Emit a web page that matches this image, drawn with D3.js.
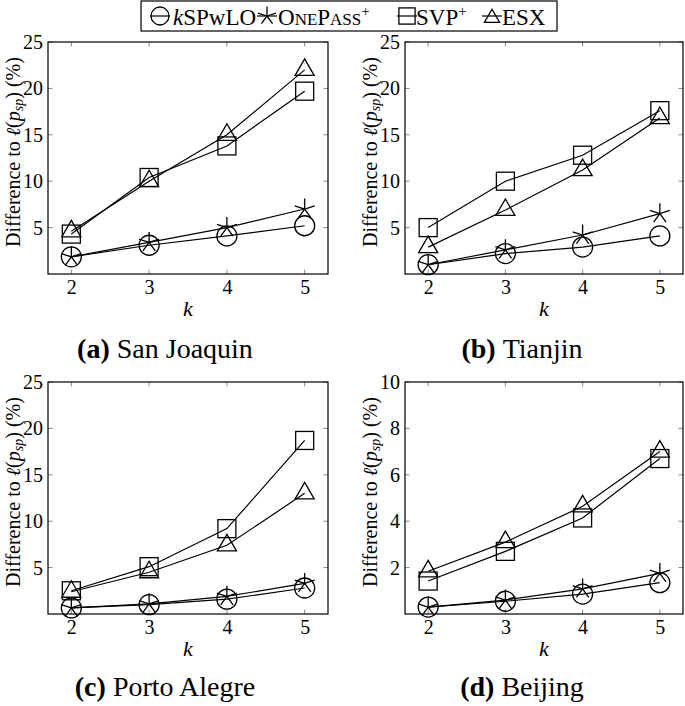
<!DOCTYPE html>
<html><head><meta charset="utf-8">
<script src="https://cdn.jsdelivr.net/npm/d3@7"></script>
<style>
html,body{margin:0;padding:0;background:#fff;}
svg{display:block;}
svg text{font-family:"Liberation Serif","DejaVu Serif","Tinos","Times New Roman","Noto Serif",serif;fill:#000;}
</style></head>
<body>
<svg id="chart" width="685" height="706"></svg>
<script>
// ---------- data ----------
const kValues = [2, 3, 4, 5];
const seriesNames = ["kSPwLO", "OnePass+", "SVP+", "ESX"];
const panelLetters = ["(a)", "(b)", "(c)", "(d)"];
const panelTitles = ["San Joaquin", "Tianjin", "Porto Alegre", "Beijing"];
const yMaxes = [25, 25, 25, 10];
const yTicksWide = [5, 10, 15, 20, 25];
const yTicksBeijing = [2, 4, 6, 8, 10];

const sanJoaquinKSPwLO = [1.85, 3.1, 4.1, 5.2];
const sanJoaquinOnePass = [1.85, 3.4, 5.0, 7.0];
const sanJoaquinSVP = [4.3, 10.4, 13.8, 19.7];
const sanJoaquinESX = [4.6, 10.0, 15.0, 22.0];

const tianjinKSPwLO = [1.0, 2.2, 2.9, 4.1];
const tianjinOnePass = [1.0, 2.6, 4.2, 6.5];
const tianjinSVP = [5.0, 10.0, 12.8, 17.6];
const tianjinESX = [2.9, 6.9, 11.2, 16.8];

const portoAlegreKSPwLO = [0.65, 1.0, 1.6, 2.8];
const portoAlegreOnePass = [0.65, 1.1, 1.9, 3.3];
const portoAlegreSVP = [2.5, 5.1, 9.2, 18.7];
const portoAlegreESX = [2.4, 4.5, 7.4, 13.0];

const beijingKSPwLO = [0.3, 0.55, 0.86, 1.35];
const beijingOnePass = [0.3, 0.6, 1.08, 1.75];
const beijingSVP = [1.42, 2.7, 4.14, 6.7];
const beijingESX = [1.84, 3.1, 4.64, 7.0];

const panelSeries = [
  [sanJoaquinKSPwLO, sanJoaquinOnePass, sanJoaquinSVP, sanJoaquinESX],
  [tianjinKSPwLO, tianjinOnePass, tianjinSVP, tianjinESX],
  [portoAlegreKSPwLO, portoAlegreOnePass, portoAlegreSVP, portoAlegreESX],
  [beijingKSPwLO, beijingOnePass, beijingSVP, beijingESX]
];
const panelYTicks = [yTicksWide, yTicksWide, yTicksWide, yTicksBeijing];

// ---------- layout ----------
const svg = d3.select("#chart");
const markerShapes = ["circle", "star", "square", "triangle"];
const panels = [
  {left: 48, right: 328, top: 42, bottom: 274, capX: 165, capY: 358},
  {left: 405, right: 683, top: 42, bottom: 274, capX: 522, capY: 358},
  {left: 48, right: 328, top: 382, bottom: 614, capX: 165, capY: 696},
  {left: 405, right: 683, top: 382, bottom: 614, capX: 522, capY: 696}
];

function drawMarker(g, shape, cx, cy, s) {
  let el;
  if (shape === "circle") {
    el = g.append("circle").attr("cx", cx).attr("cy", cy).attr("r", 10*s);
  } else if (shape === "square") {
    const h = 9*s;
    el = g.append("rect").attr("x", cx-h).attr("y", cy-h).attr("width", 2*h).attr("height", 2*h);
  } else if (shape === "triangle") {
    const r = 11*s;
    el = g.append("path").attr("d",
      `M${cx},${cy-r}L${cx-0.866*r},${cy+0.5*r}L${cx+0.866*r},${cy+0.5*r}Z`);
  } else {
    const r = 10.5*s;
    let d = "";
    for (let i = 0; i < 5; i++) {
      const a = -Math.PI/2 + i*2*Math.PI/5;
      d += `M${cx},${cy}L${cx+r*Math.cos(a)},${cy+r*Math.sin(a)}`;
    }
    el = g.append("path").attr("d", d);
  }
  el.attr("fill", "none").attr("stroke", "#000").attr("stroke-width", 1.3);
}

panels.forEach((p, i) => {
  const g = svg.append("g");
  const x = d3.scaleLinear().domain([1.7, 5.3]).range([p.left, p.right]);
  const y = d3.scaleLinear().domain([0, yMaxes[i]]).range([p.bottom, p.top]);
  const ticks = panelYTicks[i];

  // inner ticks (grey) on all four sides
  const tk = g.append("g").attr("stroke", "#8a8a8a").attr("stroke-width", 1);
  kValues.forEach(k => {
    tk.append("line").attr("x1", x(k)).attr("x2", x(k)).attr("y1", p.bottom).attr("y2", p.bottom-4.5);
    tk.append("line").attr("x1", x(k)).attr("x2", x(k)).attr("y1", p.top).attr("y2", p.top+4.5);
  });
  ticks.forEach(t => {
    tk.append("line").attr("y1", y(t)).attr("y2", y(t)).attr("x1", p.left).attr("x2", p.left+4.5);
    tk.append("line").attr("y1", y(t)).attr("y2", y(t)).attr("x1", p.right).attr("x2", p.right-4.5);
  });

  // tick labels via axes (no tick lines)
  const xAxis = d3.axisBottom(x).tickValues(kValues).tickSize(0).tickPadding(0).tickFormat(d3.format("d"));
  const xa = g.append("g").attr("transform", `translate(0,${p.bottom})`).call(xAxis);
  xa.attr("font-family", null).attr("font-size", null);
  xa.select(".domain").remove();
  xa.selectAll("text").attr("font-size", 20).attr("fill", "#000")
    .attr("dy", null).attr("y", 19.5).attr("text-anchor", "middle");
  const yAxis = d3.axisLeft(y).tickValues(ticks).tickSize(0).tickPadding(0).tickFormat(d3.format("d"));
  const ya = g.append("g").attr("transform", `translate(${p.left},0)`).call(yAxis);
  ya.attr("font-family", null).attr("font-size", null);
  ya.select(".domain").remove();
  ya.selectAll("text").attr("font-size", 20).attr("fill", "#000")
    .attr("dy", null).attr("y", 6.5).attr("x", -5).attr("text-anchor", "end");

  // frame
  g.append("rect").attr("x", p.left).attr("y", p.top).attr("width", p.right-p.left).attr("height", p.bottom-p.top)
    .attr("fill", "none").attr("stroke", "#000").attr("stroke-width", 1.2);

  // series
  const line = d3.line().x((d, j) => x(kValues[j])).y(d => y(d));
  panelSeries[i].forEach((vals, si) => {
    g.append("path").attr("d", line(vals)).attr("fill", "none").attr("stroke", "#000").attr("stroke-width", 1.2);
    vals.forEach((v, j) => drawMarker(g, markerShapes[si], x(kValues[j]), y(v), 1));
  });

  // x label
  g.append("text").attr("x", (p.left+p.right)/2).attr("y", p.bottom+42).attr("text-anchor", "middle")
    .attr("font-size", 22).attr("font-style", "italic").text("k");

  // y label
  const cy = (p.top+p.bottom)/2 - 6;
  const yl = g.append("text").attr("transform", `translate(${p.left-28.5},${cy}) rotate(-90)`)
    .attr("text-anchor", "middle").attr("font-size", 20);
  yl.append("tspan").text("Difference to ");
  yl.append("tspan").attr("font-style", "italic").text("ℓ");
  yl.append("tspan").text("(");
  yl.append("tspan").attr("font-style", "italic").text("p");
  yl.append("tspan").attr("font-style", "italic").attr("font-size", 14).attr("dy", 3.5).text("sp");
  yl.append("tspan").attr("dy", -3.5).text(") (%)");

  // caption
  const cap = g.append("text").attr("x", p.capX).attr("y", p.capY).attr("text-anchor", "middle").attr("font-size", 28);
  cap.append("tspan").attr("font-weight", "bold").text(panelLetters[i]);
  cap.append("tspan").text("\u00a0" + panelTitles[i]);
});

// ---------- legend ----------
const lg = svg.append("g");
lg.append("rect").attr("x", 141).attr("y", 1).attr("width", 416).attr("height", 30)
  .attr("fill", "#fff").attr("stroke", "#000").attr("stroke-width", 1.2);
const legendMarkerX = [160, 267, 407, 492];
const legendTextX = [173, 278, 416, 502];
const ly = 16, lBase = 24.5, lfs = 23;
seriesNames.forEach((name, si) => {
  const cx = legendMarkerX[si];
  lg.append("line").attr("x1", cx-10).attr("x2", cx+10).attr("y1", ly).attr("y2", ly)
    .attr("stroke", "#000").attr("stroke-width", 1.2);
  drawMarker(lg, markerShapes[si], cx, ly + (markerShapes[si] === "triangle" ? 2 : 0), markerShapes[si] === "triangle" ? 0.8 : 0.9);
  const t = lg.append("text").attr("x", legendTextX[si]).attr("y", lBase).attr("font-size", lfs);
  if (si === 0) {
    t.append("tspan").attr("font-style", "italic").text("k");
    t.append("tspan").text("SPwLO");
  } else if (si === 1) {
    t.append("tspan").text("O");
    t.append("tspan").attr("font-size", 17).text("NE");
    t.append("tspan").text("P");
    t.append("tspan").attr("font-size", 17).text("ASS");
    t.append("tspan").attr("font-size", 15).attr("dy", -9).text("+");
  } else if (si === 2) {
    t.append("tspan").text("SVP");
    t.append("tspan").attr("font-size", 15).attr("dy", -9).text("+");
  } else {
    t.text("ESX");
  }
});
</script>
</body></html>
